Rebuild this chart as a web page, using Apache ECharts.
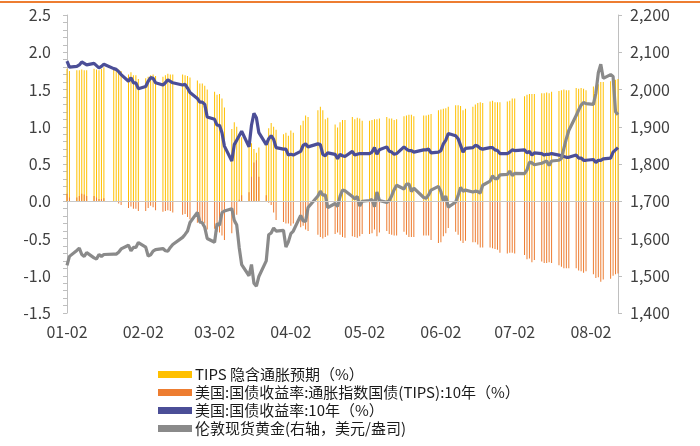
<!DOCTYPE html>
<html><head><meta charset="utf-8">
<script src="https://cdn.jsdelivr.net/npm/echarts@6/dist/echarts.min.js"></script>
<style>html,body{margin:0;padding:0;background:#fff}#c{width:700px;height:446px}</style>
</head><body><div id="c"></div><script>
// Trading dates (2020)
const tradeDates = [
 '01-02','01-03','01-06','01-07','01-08','01-09','01-10','01-13','01-14','01-15','01-16','01-17','01-21','01-22','01-23','01-24','01-27','01-28','01-29','01-30','01-31',
 '02-03','02-04','02-05','02-06','02-07','02-10','02-11','02-12','02-13','02-14','02-18','02-19','02-20','02-21','02-24','02-25','02-26','02-27','02-28',
 '03-02','03-03','03-04','03-05','03-06','03-09','03-10','03-11','03-12','03-13','03-16','03-17','03-18','03-19','03-20','03-23','03-24','03-25','03-26','03-27','03-30','03-31',
 '04-01','04-02','04-03','04-06','04-07','04-08','04-09','04-13','04-14','04-15','04-16','04-17','04-20','04-21','04-22','04-23','04-24','04-27','04-28','04-29','04-30',
 '05-01','05-04','05-05','05-06','05-07','05-08','05-11','05-12','05-13','05-14','05-15','05-18','05-19','05-20','05-21','05-22','05-26','05-27','05-28','05-29',
 '06-01','06-02','06-03','06-04','06-05','06-08','06-09','06-10','06-11','06-12','06-15','06-16','06-17','06-18','06-19','06-22','06-23','06-24','06-25','06-26','06-29','06-30',
 '07-01','07-02','07-06','07-07','07-08','07-09','07-10','07-13','07-14','07-15','07-16','07-17','07-20','07-21','07-22','07-23','07-24','07-27','07-28','07-29','07-30','07-31',
 '08-03','08-04','08-05','08-06','08-07','08-10','08-11','08-12','08-13'
];
// TIPS implied inflation expectation (%)
const breakeven = [
 1.78,1.75,1.76,1.76,1.77,1.76,1.76,1.78,1.77,1.76,1.78,1.80,1.78,1.78,1.77,1.75,1.70,1.73,1.69,1.69,1.64,
 1.65,1.67,1.69,1.70,1.68,1.67,1.69,1.71,1.70,1.70,1.70,1.69,1.68,1.66,1.62,1.58,1.58,1.55,1.50,
 1.47,1.43,1.44,1.38,1.26,0.97,1.06,1.00,0.86,0.86,0.75,0.78,0.70,0.65,0.72,0.82,0.98,1.05,1.00,0.96,0.90,0.92,
 0.88,0.95,0.92,1.02,1.08,1.15,1.13,1.22,1.27,1.22,1.10,1.12,1.03,0.99,1.06,1.09,1.09,1.13,1.10,1.12,1.11,
 1.08,1.08,1.09,1.10,1.10,1.11,1.13,1.11,1.11,1.09,1.10,1.14,1.15,1.16,1.16,1.14,1.15,1.15,1.16,1.17,
 1.22,1.23,1.24,1.25,1.27,1.29,1.29,1.28,1.22,1.24,1.27,1.30,1.32,1.33,1.32,1.34,1.35,1.33,1.33,1.33,1.34,1.35,
 1.38,1.38,1.41,1.43,1.44,1.44,1.44,1.45,1.45,1.46,1.45,1.47,1.48,1.49,1.50,1.49,1.49,1.52,1.51,1.52,1.51,1.49,
 1.54,1.55,1.57,1.60,1.60,1.61,1.62,1.63,1.64
];
// US TIPS 10Y real yield (%)
const tipsReal = [
 0.10,0.05,0.05,0.07,0.10,0.09,0.07,0.07,0.05,0.03,0.03,0.04,0.00,-0.01,-0.03,-0.05,-0.09,-0.07,-0.10,-0.10,-0.13,
 -0.13,-0.09,-0.06,-0.08,-0.12,-0.14,-0.13,-0.12,-0.13,-0.15,-0.18,-0.17,-0.21,-0.24,-0.29,-0.30,-0.30,-0.30,-0.38,
 -0.37,-0.41,-0.42,-0.46,-0.52,-0.43,-0.30,-0.18,0.02,0.08,0.12,0.33,0.52,0.55,0.33,0.08,-0.02,-0.05,-0.15,-0.25,-0.28,-0.30,
 -0.30,-0.33,-0.30,-0.35,-0.33,-0.38,-0.40,-0.45,-0.48,-0.50,-0.48,-0.46,-0.44,-0.42,-0.45,-0.48,-0.49,-0.47,-0.48,-0.49,-0.47,
 -0.44,-0.44,-0.43,-0.38,-0.47,-0.42,-0.40,-0.44,-0.45,-0.46,-0.46,-0.41,-0.45,-0.48,-0.48,-0.48,-0.46,-0.46,-0.46,-0.52,
 -0.56,-0.55,-0.47,-0.43,-0.36,-0.41,-0.45,-0.53,-0.56,-0.53,-0.55,-0.55,-0.58,-0.62,-0.62,-0.62,-0.63,-0.64,-0.65,-0.69,-0.70,-0.69,
 -0.69,-0.70,-0.72,-0.78,-0.77,-0.82,-0.79,-0.81,-0.83,-0.83,-0.82,-0.83,-0.86,-0.88,-0.90,-0.90,-0.90,-0.90,-0.93,-0.94,-0.96,-0.94,
 -0.98,-1.03,-1.02,-1.08,-1.05,-1.04,-1.00,-0.98,-0.97
];
// US Treasury 10Y yield (%)
const nominal10y = [
 1.88,1.80,1.81,1.83,1.87,1.85,1.83,1.85,1.82,1.79,1.81,1.84,1.78,1.77,1.74,1.70,1.61,1.66,1.59,1.59,1.51,
 1.54,1.61,1.66,1.65,1.59,1.56,1.59,1.63,1.61,1.59,1.56,1.57,1.52,1.46,1.38,1.33,1.33,1.30,1.13,
 1.10,1.02,1.02,0.92,0.74,0.54,0.76,0.82,0.88,0.94,0.73,1.02,1.18,1.12,0.92,0.76,0.84,0.88,0.83,0.72,0.70,0.70,
 0.62,0.63,0.62,0.67,0.75,0.77,0.73,0.77,0.76,0.63,0.61,0.65,0.63,0.57,0.63,0.61,0.60,0.67,0.62,0.63,0.64,
 0.64,0.64,0.66,0.72,0.63,0.69,0.73,0.67,0.66,0.63,0.64,0.73,0.70,0.68,0.68,0.66,0.69,0.69,0.70,0.65,
 0.66,0.68,0.77,0.82,0.91,0.88,0.84,0.75,0.66,0.71,0.72,0.75,0.74,0.71,0.70,0.72,0.72,0.69,0.68,0.64,0.64,0.66,
 0.69,0.68,0.69,0.65,0.67,0.62,0.65,0.64,0.62,0.63,0.63,0.64,0.62,0.61,0.60,0.59,0.59,0.62,0.58,0.58,0.55,0.55,
 0.56,0.52,0.55,0.55,0.57,0.58,0.66,0.69,0.72
];
// London spot gold (USD/oz)
const gold = [
 1528,1552,1568,1574,1557,1552,1562,1548,1545,1557,1552,1557,1558,1558,1563,1572,1582,1567,1576,1576,1589,
 1577,1553,1556,1566,1570,1573,1567,1566,1576,1584,1603,1611,1620,1643,1670,1645,1642,1630,1600,
 1590,1640,1636,1669,1674,1680,1649,1636,1576,1530,1500,1530,1480,1472,1498,1540,1610,1615,1628,1620,1622,1577,
 1591,1613,1620,1662,1647,1646,1683,1714,1727,1716,1717,1683,1694,1686,1713,1730,1728,1713,1706,1713,1687,
 1700,1702,1705,1685,1725,1702,1697,1702,1715,1731,1743,1733,1746,1746,1726,1735,1710,1708,1717,1730,
 1740,1726,1700,1714,1684,1698,1715,1737,1727,1730,1725,1727,1726,1722,1743,1754,1768,1761,1761,1771,1772,1781,
 1769,1775,1774,1784,1805,1803,1798,1802,1805,1808,1796,1808,1810,1815,1842,1868,1890,1930,1945,1958,1965,1962,
 1960,1990,2045,2068,2030,2040,2035,1940,1932
];
const seriesNames = [
 'TIPS 隐含通胀预期（%）',
 '美国:国债收益率:通胀指数国债(TIPS):10年（%）',
 '美国:国债收益率:10年（%）',
 '伦敦现货黄金(右轴，美元/盎司)'
];

// calendar-day category axis (weekends/holidays leave gaps, like a date axis)
const days = [];
for (let d = new Date(Date.UTC(2020,0,2)); d <= new Date(Date.UTC(2020,7,13)); d.setUTCDate(d.getUTCDate()+1)) {
  days.push(String(d.getUTCMonth()+1).padStart(2,'0') + '-' + String(d.getUTCDate()).padStart(2,'0'));
}
const pos = {};
tradeDates.forEach((t,i) => pos[t] = i);
const align = arr => days.map(d => (d in pos) ? arr[pos[d]] : null);

const FONT = "'Noto Sans CJK SC', 'Noto Sans', sans-serif";
const chart = echarts.init(document.getElementById('c'), null, {renderer:'canvas'});
chart.setOption({
  animation: false,
  backgroundColor: '#fff',
  textStyle: {fontFamily: FONT},
  graphic: [{type:'line', shape:{x1:0,y1:2,x2:700,y2:2}, style:{stroke:'#ED7D31', lineWidth:2}, silent:true}],
  grid: {left:67, right:82, top:15, bottom:133, containLabel:false},
  legend: {
    orient:'vertical', left:153, top:362, itemWidth:34, itemHeight:7, itemGap:3,
    textStyle:{fontSize:15, color:'#1a1a1a', fontFamily:FONT, padding:[0,0,0,-2]},
    data:[
      {name:seriesNames[0], icon:'rect'},
      {name:seriesNames[1], icon:'rect'},
      {name:seriesNames[2], icon:'rect'},
      {name:seriesNames[3], icon:'rect'}
    ]
  },
  xAxis: {
    type:'category', data:days, boundaryGap:false,
    axisLine:{show:false}, axisTick:{show:false},
    axisLabel:{interval:(i,v)=>v.endsWith('-02'), color:'#404040', fontSize:16, margin:11, fontFamily:FONT},
    splitLine:{show:false}
  },
  yAxis: [{
    type:'value', min:-1.5, max:2.5, interval:0.5, position:'left',
    axisLine:{show:true, lineStyle:{color:'#bfbfbf'}},
    axisTick:{show:true, length:4, lineStyle:{color:'#bfbfbf'}},
    minorTick:{show:true, splitNumber:5, length:4, lineStyle:{color:'#bfbfbf'}},
    splitLine:{show:false},
    axisLabel:{formatter:v=>v.toFixed(1), color:'#404040', fontSize:16, margin:16, fontFamily:FONT}
  },{
    type:'value', min:1400, max:2200, interval:100, position:'right',
    axisLine:{show:true, lineStyle:{color:'#bfbfbf'}},
    axisTick:{show:true, length:4, lineStyle:{color:'#bfbfbf'}},
    splitLine:{show:false},
    axisLabel:{formatter:v=>v.toLocaleString('en-US'), color:'#404040', fontSize:16, margin:12, fontFamily:FONT}
  }],
  series: [
    {name:seriesNames[0], type:'bar', data:align(breakeven), barWidth:1, barGap:'-100%',
     itemStyle:{color:'#FFC000'},
     markLine:{silent:true, symbol:['none','none'], label:{show:false}, lineStyle:{color:'#c8c8c8', width:1, type:'solid'}, data:[{yAxis:0}]}},
    {name:seriesNames[1], type:'bar', data:align(tipsReal), barWidth:1, barGap:'-100%',
     itemStyle:{color:'#ED7D31'}},
    {name:seriesNames[2], type:'line', data:align(nominal10y), connectNulls:true, showSymbol:false, symbol:'none',
     lineStyle:{color:'#4B4E97', width:3.2}, itemStyle:{color:'#4B4E97'}},
    {name:seriesNames[3], type:'line', yAxisIndex:1, data:align(gold), connectNulls:true, showSymbol:false, symbol:'none',
     lineStyle:{color:'#8A8A8A', width:3.2}, itemStyle:{color:'#8A8A8A'}}
  ]
});
</script></body></html>
